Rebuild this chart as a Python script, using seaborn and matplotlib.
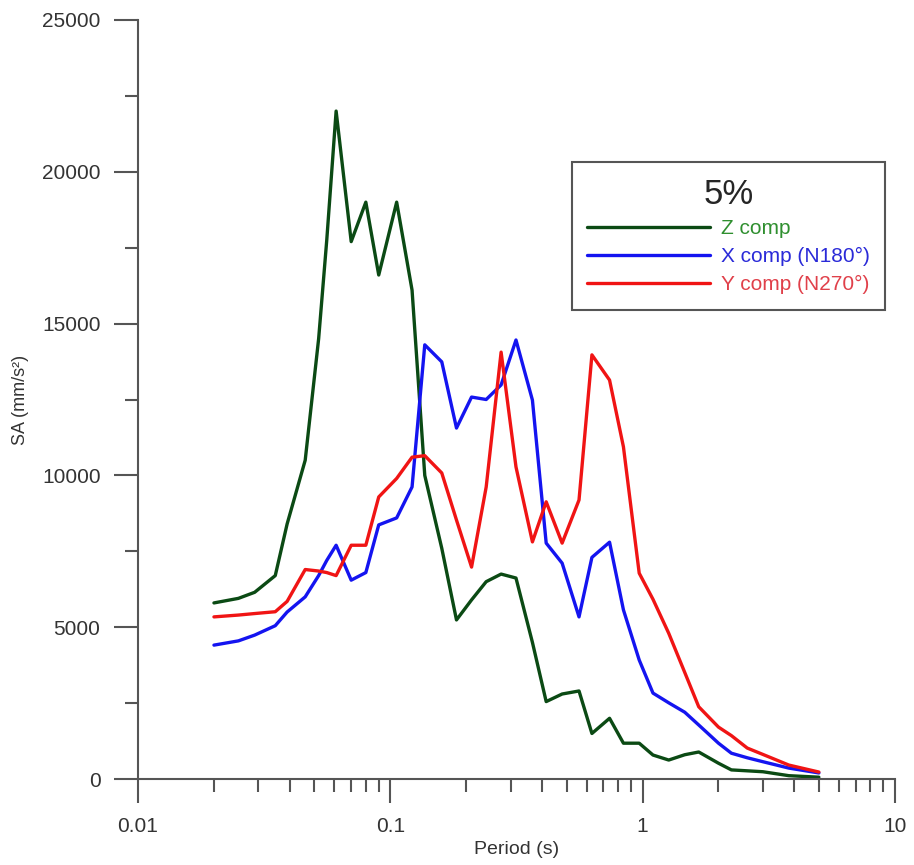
import pandas as pd
import matplotlib.pyplot as plt
import seaborn as sns
import numpy as np
from matplotlib.ticker import MultipleLocator, LogLocator, FixedLocator

# spectral periods (s)
periods = [0.02, 0.025, 0.029, 0.035, 0.039, 0.046, 0.052, 0.056, 0.061, 0.07,
           0.08, 0.09, 0.106, 0.122, 0.137, 0.16, 0.183, 0.21, 0.24, 0.275,
           0.315, 0.366, 0.415, 0.48, 0.56, 0.63, 0.74, 0.84, 0.97, 1.1,
           1.27, 1.47, 1.67, 2.0, 2.25, 2.6, 3.0, 3.8, 5.0]

# SA (mm/s2), 5% damping
z_comp = [5800, 5950, 6150, 6700, 8400, 10500, 14500, 17750, 22000, 17700,
          19000, 16600, 19000, 16100, 10000, 7600, 5240, 5900, 6500, 6750,
          6620, 4500, 2550, 2800, 2900, 1500, 2000, 1180, 1180, 790,
          625, 800, 890, 520, 300, 270, 240, 110, 60]
x_comp = [4410, 4550, 4740, 5050, 5500, 6000, 6700, 7200, 7700, 6550,
          6800, 8370, 8600, 9620, 14300, 13740, 11560, 12580, 12500, 12980,
          14460, 12480, 7770, 7110, 5340, 7300, 7800, 5570, 3920, 2830,
          2510, 2200, 1780, 1180, 850, 700, 570, 360, 200]
y_comp = [5340, 5400, 5450, 5510, 5850, 6900, 6850, 6800, 6700, 7700,
          7700, 9290, 9900, 10600, 10650, 10080, 8530, 6980, 9620, 14060,
          10280, 7810, 9130, 7770, 9190, 13970, 13140, 10940, 6780, 5920,
          4800, 3510, 2380, 1710, 1430, 1020, 810, 460, 230]

labels = ['Z comp', 'X comp (N180°)', 'Y comp (N270°)']
line_cols = ['#0b4a14', '#1414f0', '#f01414']
text_cols = ['#2f8f2f', '#2a2ad8', '#e0404a']

rows = []
for lab, vals in zip(labels, [z_comp, x_comp, y_comp]):
    for p, v in zip(periods, vals):
        rows.append({'Period': p, 'SA': v, 'comp': lab})
df = pd.DataFrame(rows)

sns.set_style('ticks')
plt.rcParams['font.family'] = ['Liberation Sans', 'DejaVu Sans']

fig = plt.figure(figsize=(9.14, 8.65), dpi=100)
ax = fig.add_axes([0.151, 0.0994, 0.828, 0.8775])

sns.lineplot(data=df, x='Period', y='SA', hue='comp', hue_order=labels,
             palette=dict(zip(labels, line_cols)), sort=False, lw=2.4,
             ax=ax, legend=False)

ax.set_xscale('log')
ax.set_xlim(0.01, 10)
ax.set_ylim(0, 25000)
ax.yaxis.set_major_locator(MultipleLocator(5000))
ax.yaxis.set_minor_locator(MultipleLocator(2500))
ax.xaxis.set_major_locator(FixedLocator([0.01, 0.1, 1, 10]))
ax.xaxis.set_minor_locator(LogLocator(base=10, subs=np.arange(2, 10)))
ax.set_xticklabels(['0.01', '0.1', '1', '10'])

for s in ['top', 'right']:
    ax.spines[s].set_visible(False)
for s in ['left', 'bottom']:
    ax.spines[s].set_color('#555555')
    ax.spines[s].set_linewidth(1.5)
ax.tick_params(which='major', direction='out', length=17, width=1.5,
               color='#555555', labelsize=15, labelcolor='#333333', pad=10)
ax.tick_params(which='minor', direction='out', length=9.5, width=1.5,
               color='#555555')

ax.set_xlabel('Period (s)', fontsize=14, color='#333333', labelpad=4)
ax.set_ylabel('SA (mm/s²)', fontsize=13, color='#333333', labelpad=9)

handles = [plt.Line2D([], [], color=c, lw=2.4) for c in line_cols]
leg = ax.legend(handles, labels, title='5%', loc='upper left',
                bbox_to_anchor=(0.573, 0.813), borderaxespad=0,
                fontsize=15, title_fontsize=25, handlelength=5.9,
                handletextpad=0.5, labelspacing=0.42, borderpad=0.75,
                fancybox=False, framealpha=1, edgecolor='#555555')
leg.get_frame().set_linewidth(1.5)
for t, c in zip(leg.get_texts(), text_cols):
    t.set_color(c)

fig.savefig('out.png', dpi=100)
